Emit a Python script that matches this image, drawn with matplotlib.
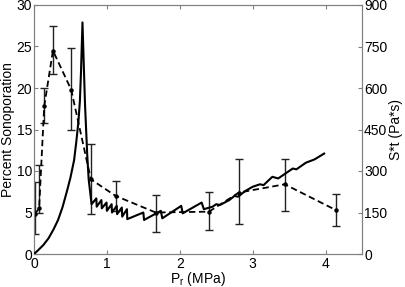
import matplotlib
matplotlib.use("Agg")
import matplotlib.pyplot as plt

plt.rcParams['font.family'] = ['Liberation Sans', 'DejaVu Sans']
plt.rcParams['mathtext.default'] = 'regular'

# Percent sonoporation (dashed, left axis)
pr_exp = [0.01, 0.07, 0.14, 0.26, 0.51, 0.78, 1.12, 1.67, 2.40, 2.81, 3.44, 4.14]
sono = [4.8, 5.5, 17.8, 24.5, 19.8, 9.0, 7.0, 5.0, 5.1, 7.4, 8.4, 5.3]
sono_lo = [2.4, 4.9, 15.8, 21.7, 14.9, 4.8, 5.2, 2.7, 2.9, 3.6, 5.2, 3.4]
sono_hi = [8.7, 10.7, 20.0, 27.5, 24.8, 13.3, 8.8, 7.1, 7.5, 11.4, 11.4, 7.2]

# S*t (solid, right axis)
pr_st = [0.0, 0.05, 0.13, 0.20, 0.27, 0.33, 0.39, 0.45, 0.50, 0.55, 0.58, 0.61,
         0.63, 0.645, 0.665,
         0.70, 0.73, 0.75, 0.77,
         0.79, 0.855, 0.86, 0.925, 0.93, 0.995, 1.0, 1.065, 1.07, 1.135, 1.14,
         1.205, 1.21, 1.275, 1.28,
         1.50, 1.51, 1.74, 1.76, 2.02, 2.04, 2.30, 2.33,
         2.45, 2.50, 2.55, 2.68, 2.75, 2.80, 2.90, 3.00, 3.10, 3.15, 3.27,
         3.35, 3.45, 3.55, 3.60, 3.73, 3.85, 3.98]
st = [0, 12, 33, 57, 90, 123, 168, 225, 276, 339, 405, 480,
      555, 660, 837,
      540, 360, 270, 225,
      180, 201, 171, 195, 165, 186, 156, 180, 150, 174, 144,
      168, 135, 162, 126,
      150, 123, 156, 129, 174, 147, 186, 162,
      171, 180, 177, 195, 210, 207, 228, 243, 252, 249, 279,
      273, 291, 309, 306, 330, 342, 363]

xticks = [0, 1, 2, 3, 4]
yticks_left = [0, 5, 10, 15, 20, 25, 30]
yticks_right = [0, 150, 300, 450, 600, 750, 900]

fig = plt.figure(figsize=(4.06, 2.87), dpi=100)
ax = fig.add_axes([34/406, 33/287, 328/406, 249/287])
ax2 = ax.twinx()

yerr = [[s - lo for s, lo in zip(sono, sono_lo)], [hi - s for s, hi in zip(sono, sono_hi)]]
ax.errorbar(pr_exp, sono, yerr=yerr, fmt='none', ecolor='#222222', elinewidth=1.0,
            capsize=2.6, capthick=1.0, zorder=2)
ax.plot(pr_exp, sono, color='black', linestyle=(0, (3.5, 2)), linewidth=1.3,
        marker='o', markersize=2.2, zorder=3)

ax2.plot(pr_st, st, color='black', linewidth=1.5, zorder=4)

ax.set_xlim(0, 4.5)
ax.set_ylim(0, 30)
ax2.set_ylim(0, 900)
ax.set_xticks(xticks)
ax.set_yticks(yticks_left)
ax2.set_yticks(yticks_right)

for a in (ax, ax2):
    for sp in a.spines.values():
        sp.set_color('#808080')
        sp.set_linewidth(0.8)
    a.tick_params(direction='in', length=3, width=0.8, color='#808080',
                  labelsize=10, pad=1.5)
ax.tick_params(axis='x', top=True, pad=2.5)
ax.tick_params(axis='y', right=False)

ax.set_ylabel('Percent Sonoporation', fontsize=10, labelpad=1)
ax2.set_ylabel('S*t (Pa*s)', fontsize=10, labelpad=1)
ax.set_xlabel('P$_r$ (MPa)', fontsize=10, labelpad=-1)

fig.savefig('out.png', dpi=100)
